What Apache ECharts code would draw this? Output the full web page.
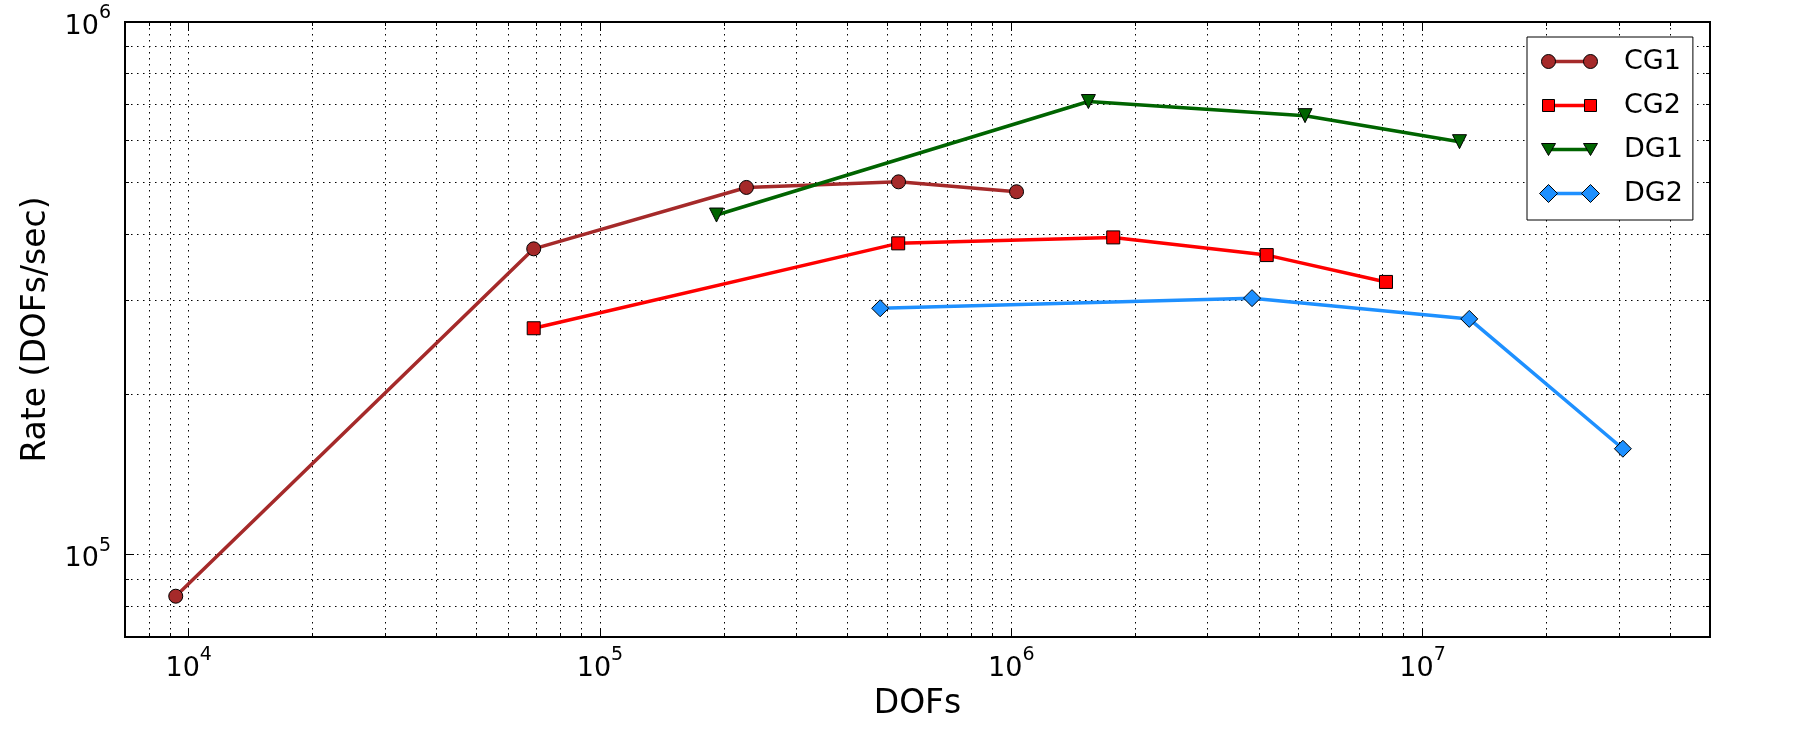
<!DOCTYPE html>
<html>
<head>
<meta charset="utf-8">
<script src="https://cdn.jsdelivr.net/npm/echarts@6/dist/echarts.min.js"></script>
<style>
  html, body { margin: 0; padding: 0; background: #fff; }
  #chart { width: 1800px; height: 750px; }
</style>
</head>
<body>
<div id="chart"></div>
<script>
// data (log-log)
var names = ["CG1", "CG2", "DG1", "DG2"];
var cg1Dofs = [9300, 69000, 227000, 532000, 1030000];
var cg1Rate = [83500, 375000, 489000, 501000, 480000];
var cg2Dofs = [69000, 531000, 1770000, 4180000, 8150000];
var cg2Rate = [266000, 384000, 394000, 365000, 325000];
var dg1Dofs = [192000, 1540000, 5180000, 12300000];
var dg1Rate = [434000, 709000, 667000, 596000];
var dg2Dofs = [480000, 3850000, 12990000, 30700000];
var dg2Rate = [290000, 303000, 277000, 158000];

// tick positions
var xMajor = [1e4, 1e5, 1e6, 1e7];
var yMajor = [1e5, 1e6];
var xMinor = [8e3, 9e3];
[1e4, 1e5, 1e6].forEach(function (d) {
  for (var k = 2; k <= 9; k++) xMinor.push(k * d);
});
xMinor.push(2e7, 3e7, 4e7);
var yMinor = [8e4, 9e4];
for (var k = 2; k <= 9; k++) yMinor.push(k * 1e5);

var font = "DejaVu Sans";

function pairs(xs, ys) {
  return xs.map(function (x, i) { return [x, ys[i]]; });
}

function powLabel(v) {
  return "{b|10}{s|" + Math.round(Math.log10(v)) + "}";
}

var gridLine = { show: true, lineStyle: { color: "#000", width: 1, type: [1.5, 4.5] } };

function makeAxis(kind, pos, ticks, len, withLabel, range) {
  return {
    type: "log",
    logBase: 10,
    position: pos,
    min: range[0],
    max: range[1],
    axisLine: { show: true, onZero: false, lineStyle: { color: "#000", width: 2 } },
    axisTick: { show: true, inside: true, length: len, customValues: ticks,
      lineStyle: { color: "#000", width: 1 } },
    axisLabel: withLabel ? {
      show: true, customValues: ticks, formatter: powLabel,
      margin: kind === "x" ? 9 : 14,
      rich: {
        b: { fontFamily: font, fontSize: 27, color: "#000", lineHeight: 36, verticalAlign: "bottom" },
        s: { fontFamily: font, fontSize: 19, color: "#000", lineHeight: 15, verticalAlign: "top" }
      }
    } : { show: false },
    splitLine: withLabel !== null ? gridLine : { show: false }
  };
}

var xRange = [7000, 5e7];
var yRange = [70000, 1e6];

var xAxes = [
  makeAxis("x", "bottom", xMajor, 9, true, xRange),
  makeAxis("x", "bottom", xMinor, 4, false, xRange),
  makeAxis("x", "top", xMajor, 9, null, xRange),
  makeAxis("x", "top", xMinor, 4, null, xRange)
];
var yAxes = [
  makeAxis("y", "left", yMajor, 9, true, yRange),
  makeAxis("y", "left", yMinor, 4, false, yRange),
  makeAxis("y", "right", yMajor, 9, null, yRange),
  makeAxis("y", "right", yMinor, 4, null, yRange)
];
xAxes[0].name = "DOFs";
xAxes[0].nameLocation = "middle";
xAxes[0].nameGap = 51;
xAxes[0].nameTextStyle = { fontFamily: font, fontSize: 33, color: "#000" };
yAxes[0].name = "Rate (DOFs/sec)";
yAxes[0].nameLocation = "middle";
yAxes[0].nameGap = 72;
yAxes[0].nameTextStyle = { fontFamily: font, fontSize: 33, color: "#000" };

function lineSeries(name, xs, ys, color, symbol, size, rotate) {
  return {
    name: name,
    type: "line",
    data: pairs(xs, ys),
    symbol: symbol,
    symbolSize: size,
    symbolRotate: rotate || 0,
    showAllSymbol: true,
    lineStyle: { color: color, width: 3.5 },
    itemStyle: { color: color, borderColor: "#000", borderWidth: 1 },
    z: 5
  };
}

// legend icons in a 60x18 box: a marker at each end (matplotlib style)
var box = "M0,0 M60,18 ";
var markerIcons = [
  "path://" + box + "M2,9 A7,7 0 1,1 16,9 A7,7 0 1,1 2,9 Z M44,9 A7,7 0 1,1 58,9 A7,7 0 1,1 44,9 Z",
  "path://" + box + "M3,3 L15,3 L15,15 L3,15 Z M45,3 L57,3 L57,15 L45,15 Z",
  "path://" + box + "M2,3 L16,3 L9,15 Z M44,3 L58,3 L51,15 Z",
  "path://" + box + "M0,9 L9,0 L18,9 L9,18 Z M42,9 L51,0 L60,9 L51,18 Z"
];
var barIcon = "path://" + box + "M9,7.25 L51,7.25 L51,10.75 L9,10.75 Z";

function legendBase(extra) {
  var base = {
    orient: "vertical",
    left: 1527,
    top: 37,
    borderRadius: 0,
    padding: [11, 10, 13, 12],
    itemGap: 17,
    itemWidth: 60,
    itemHeight: 18,
    textStyle: { fontFamily: font, fontSize: 27, color: "#000", lineHeight: 26, padding: [0, 0, 0, 20] }
  };
  for (var key in extra) base[key] = extra[key];
  return base;
}

var chart = echarts.init(document.getElementById("chart"));
chart.setOption({
  animation: false,
  backgroundColor: "#fff",
  textStyle: { fontFamily: font },
  grid: { left: 125, right: 90, top: 22, bottom: 113, containLabel: false },
  legend: [
    legendBase({
      z: 10,
      backgroundColor: "#fff",
      borderColor: "#000",
      borderWidth: 1,
      itemStyle: { borderWidth: 0 },
      data: names.map(function (n) { return { name: n, icon: barIcon }; })
    }),
    legendBase({
      z: 11,
      backgroundColor: "transparent",
      borderWidth: 0,
      itemStyle: { borderColor: "#000", borderWidth: 1 },
      textStyle: { fontFamily: font, fontSize: 27, color: "rgba(0,0,0,0)", lineHeight: 26, padding: [0, 0, 0, 20] },
      data: names.map(function (n, i) { return { name: n, icon: markerIcons[i] }; })
    })
  ],
  xAxis: xAxes,
  yAxis: yAxes,
  series: [
    lineSeries(names[0], cg1Dofs, cg1Rate, "#a52a2a", "circle", 14),
    lineSeries(names[1], cg2Dofs, cg2Rate, "#ff0000", "rect", 13),
    lineSeries(names[2], dg1Dofs, dg1Rate, "#006400", "triangle", 14, 180),
    lineSeries(names[3], dg2Dofs, dg2Rate, "#1e90ff", "diamond", 17)
  ]
});
</script>
</body>
</html>
